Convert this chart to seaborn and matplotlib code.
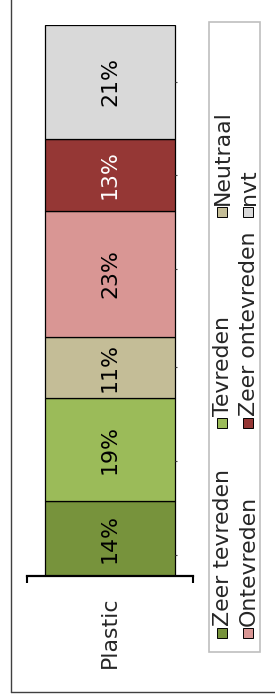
import matplotlib
matplotlib.use("Agg")
import matplotlib.pyplot as plt
from matplotlib.patches import Rectangle
from matplotlib.lines import Line2D
import seaborn as sns

category = "Plastic"
levels = ["Zeer tevreden", "Tevreden", "Neutraal",
          "Ontevreden", "Zeer ontevreden", "nvt"]
shares = [13.6, 18.7, 11.1, 22.9, 13.1, 20.6]
colors = ["#77933C", "#9BBB59", "#C4BD97", "#D99694", "#953735", "#D9D9D9"]
text_colors = ["black", "black", "black", "black", "white", "black"]
value_ticks = [3.8, 20.9, 37.9, 55.7, 72.8, 89.7]

sns.set_style("white")
plt.rcParams['font.family'] = ['DejaVu Sans']
FS = 15.8

W, H = 275, 700
fig = plt.figure(figsize=(W / 100, H / 100), dpi=100)

def fx(x):
    return x / W
def fy(y):
    return 1 - y / H

# outer frame (cropped on top and right)
fig.add_artist(Line2D([fx(11), fx(11)], [fy(692), 1.01], color="#404040", lw=1.0))
fig.add_artist(Line2D([fx(11), 1.01], [fy(692), fy(692)], color="#404040", lw=1.0))

ax = fig.add_axes([fx(27), fy(576), fx(193) - fx(27), fy(25) - fy(576)])
bottom = 0
for lev, val, col, tc in zip(levels, shares, colors, text_colors):
    sns.barplot(x=[category], y=[val], bottom=bottom, color=col, saturation=1,
                width=0.78, edgecolor="black", linewidth=0.9, errorbar=None, ax=ax)
    ax.text(0, bottom + val / 2, f"{round(val)}%", rotation=90, ha="center",
            va="center", fontsize=FS, color=tc)
    bottom += val

ax.set_xlim(-0.5, 0.5)
ax.set_ylim(0, bottom)
ax.hlines(value_ticks, 0.39, 0.405, color="#404040", lw=0.8)
for s in ["top", "left", "right"]:
    ax.spines[s].set_visible(False)
ax.spines["bottom"].set_linewidth(1.6)
ax.spines["bottom"].set_color("black")
ax.set_yticks([])
ax.set_ylabel("")
ax.set_xlabel("")
ax.set_xticks([0])
ax.set_xticklabels([category], rotation=90, fontsize=FS)
ax.tick_params(axis="x", which="major", length=0, pad=15)
# end ticks of the category axis
ax.vlines([-0.5, 0.5], 0, -1.3, color="black", lw=1.5, clip_on=False)

# legend, drawn rotated
fig.add_artist(Rectangle((fx(209), fy(652)), fx(260) - fx(209), fy(22) - fy(652),
                         transform=fig.transFigure, facecolor="white",
                         edgecolor="#BFBFBF", lw=1.2))
row_x = [222, 248]
item_y = [633, 423, 212]
for i, (lev, col) in enumerate(zip(levels, colors)):
    cx = row_x[i // 3]
    cy = item_y[i % 3]
    fig.add_artist(Rectangle((fx(cx - 5), fy(cy + 5)), fx(10), 10 / H,
                             transform=fig.transFigure, facecolor=col,
                             edgecolor="black", lw=0.7))
    fig.text(fx(cx + 1), fy(cy - 7), lev, rotation=90, ha="center", va="bottom",
             fontsize=FS)

fig.savefig("out.png", dpi=100)
